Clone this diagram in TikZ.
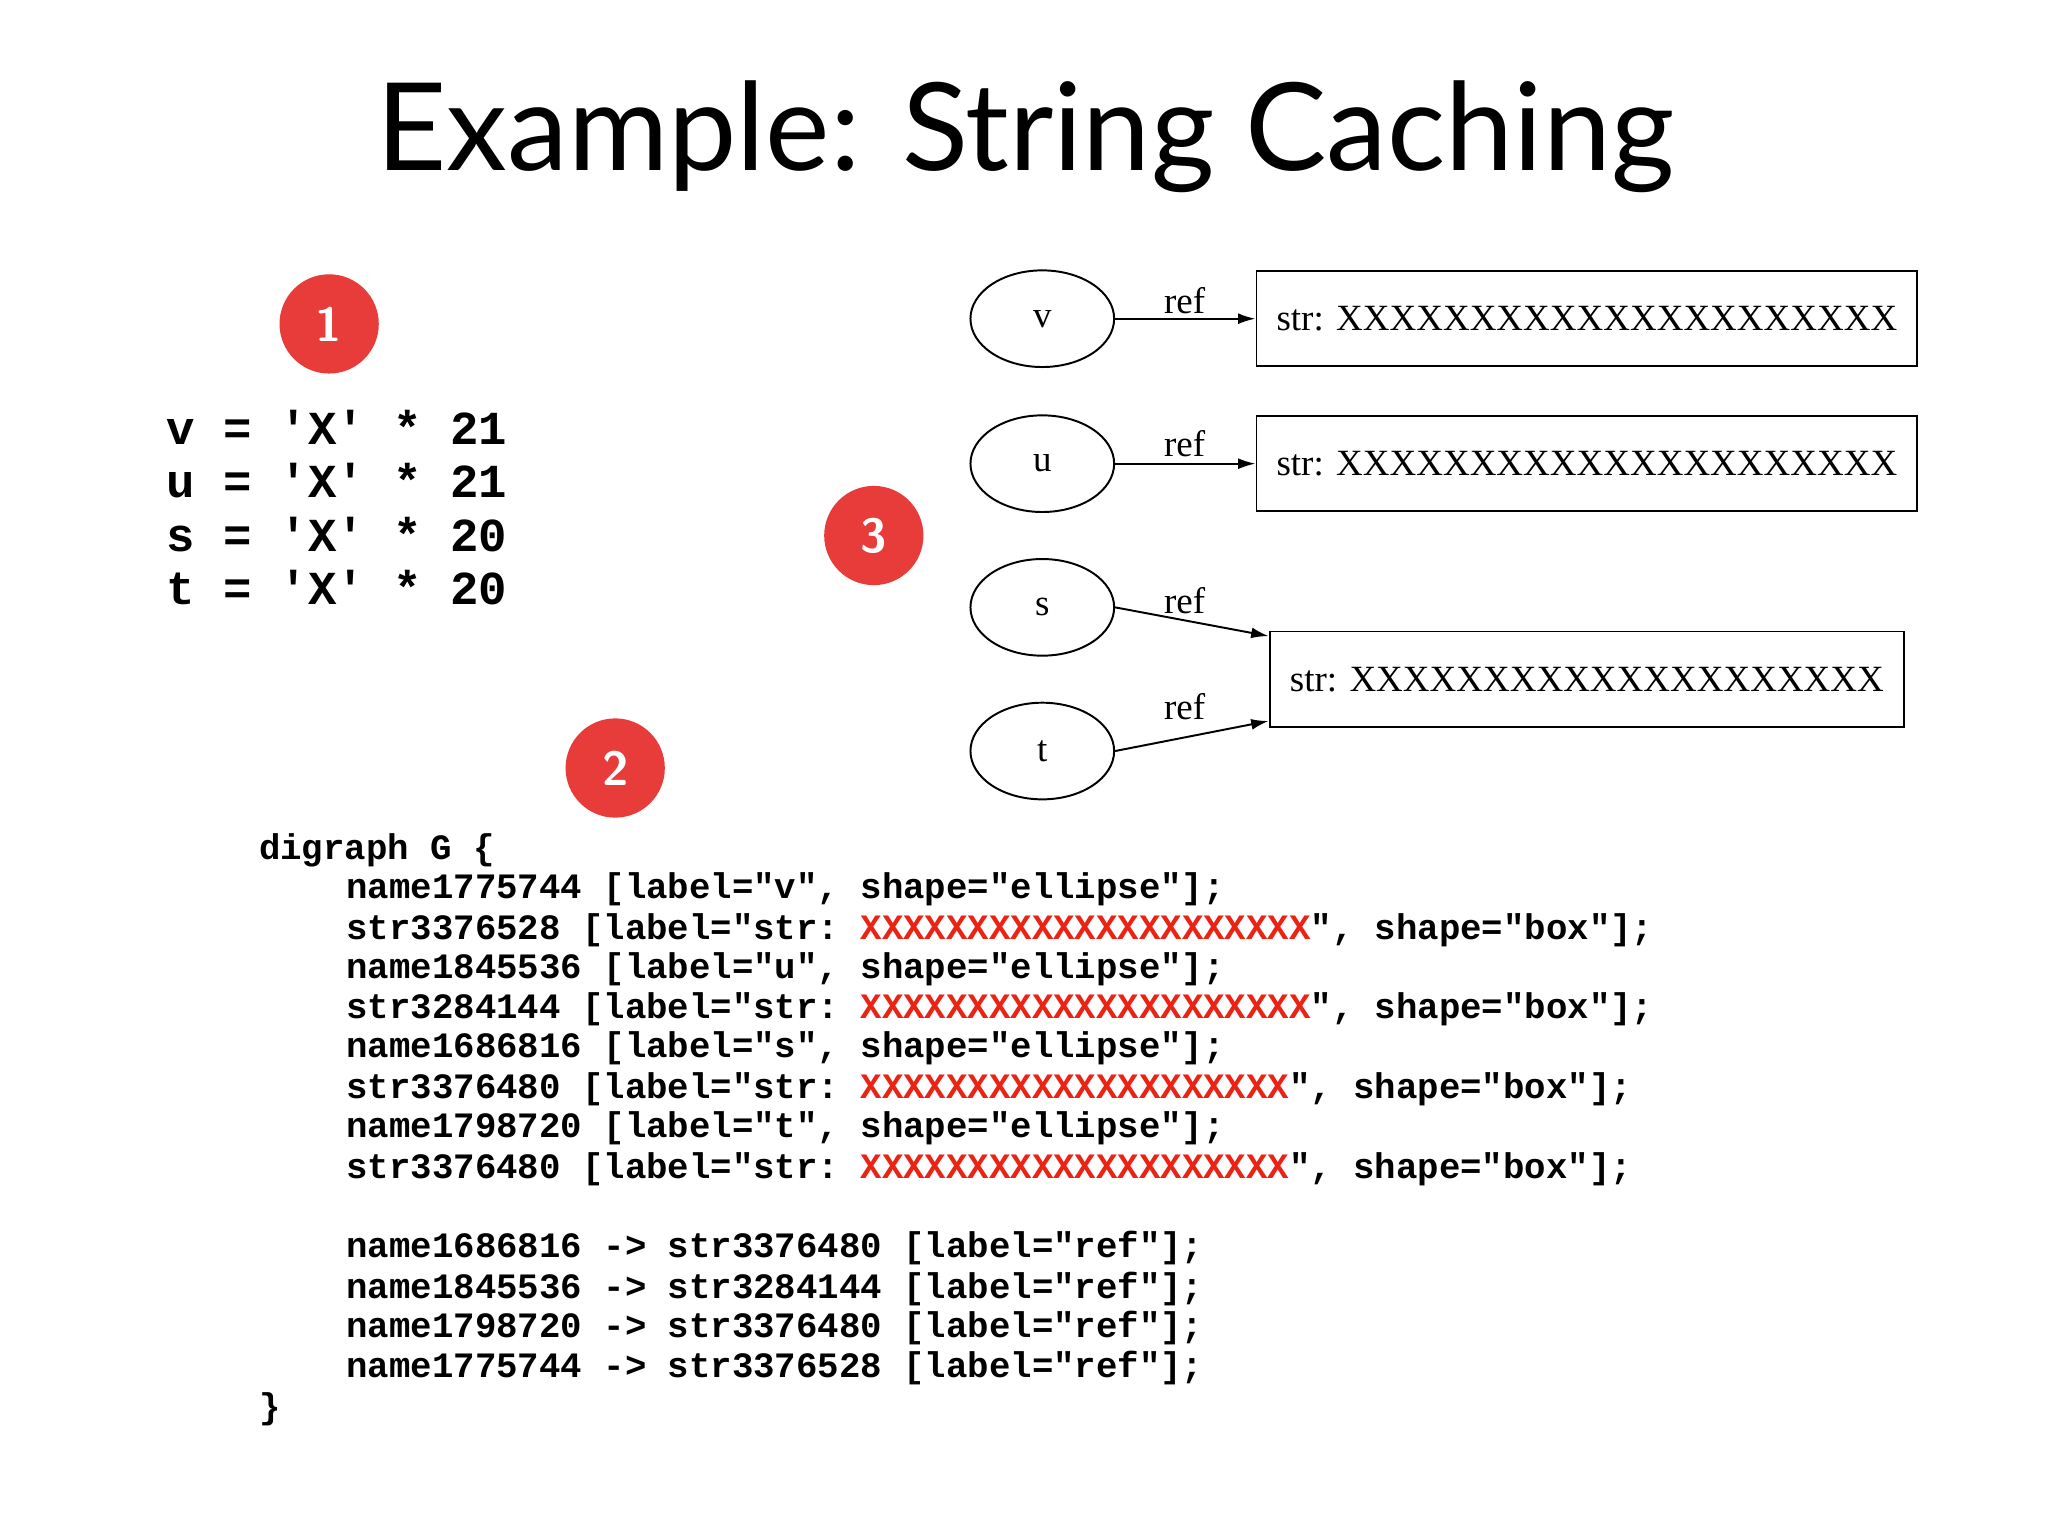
\documentclass[tikz,border=0pt]{standalone}
\usepackage{fontspec}
\setmainfont{Liberation Serif}
\setmonofont{Liberation Mono}
\newfontfamily\titlefont{Lato}
\usetikzlibrary{arrows.meta,shapes.geometric}
\definecolor{badge}{RGB}{232,60,58}
\definecolor{codered}{RGB}{235,35,20}
\begin{document}
\begin{tikzpicture}[x=0.6pt,y=-0.6pt,
  badge/.style={circle,fill=badge,minimum size=45.6pt,inner sep=0pt,text=white,font=\sffamily\bfseries\fontsize{22}{26}\selectfont},
  var/.style={draw,ellipse,minimum width=66pt,minimum height=44.4pt,inner sep=0pt,line width=0.9pt,font=\fontsize{17}{20}\selectfont},
  box/.style={draw,rectangle,line width=0.9pt,minimum width=303.6pt,minimum height=43.8pt,inner sep=0pt,font=\fontsize{17}{20}\selectfont},
  edge/.style={-{Latex[length=8pt,width=5pt]},line width=0.9pt},
  elab/.style={font=\fontsize{17}{20}\selectfont},
  code/.style={anchor=base west,inner sep=0pt,font=\ttfamily\bfseries\fontsize{16.4}{18}\selectfont},
  big/.style={anchor=base west,inner sep=0pt,font=\ttfamily\bfseries\fontsize{21.75}{24}\selectfont}]
\useasboundingbox (0,0) rectangle (1568,1176);
\node[font=\titlefont\fontsize{56}{64}\selectfont] (title) at (785,105) {Example: String Caching};
\node[badge] (b1) at (252,248) {1};
\node[badge] (b2) at (471,588) {2};
\node[badge] (b3) at (669,410) {3};
\node[big] (l1) at (127,340) {v = 'X' * 21};
\node[big] (l2) at (127,381) {u = 'X' * 21};
\node[big] (l3) at (127,422) {s = 'X' * 20};
\node[big] (l4) at (127,463) {t = 'X' * 20};
\node[var] (v) at (798,244) {v};
\node[var] (u) at (798,355) {u};
\node[var] (s) at (798,465) {s};
\node[var] (t) at (798,575) {t};
\node[box] (bv) at (1215,244) {str: XXXXXXXXXXXXXXXXXXXXX};
\node[box] (bu) at (1215,355) {str: XXXXXXXXXXXXXXXXXXXXX};
\node[box,minimum width=291.6pt] (bs) at (1215,520) {str: XXXXXXXXXXXXXXXXXXXX};
\draw[edge] (v.east) -- (bv.west);
\draw[edge] (u.east) -- (bu.west);
\coordinate (bs1) at ([yshift=19.8pt]bs.west);
\coordinate (bs2) at ([yshift=-19.2pt]bs.west);
\draw[edge] (s.east) -- (bs1);
\draw[edge] (t.east) -- (bs2);
\node[elab] (r1) at (907,230) {ref};
\node[elab] (r2) at (907,340) {ref};
\node[elab] (r3) at (907,460) {ref};
\node[elab] (r4) at (907,541) {ref};
\node[code] (c0) at (198,658) {digraph G \{};
\node[code] (c1) at (265,688) {name1775744 [label="v", shape="ellipse"];};
\node[code] (c2) at (265,719) {str3376528 [label="str: \textcolor{codered}{XXXXXXXXXXXXXXXXXXXXX}", shape="box"];};
\node[code] (c3) at (265,749) {name1845536 [label="u", shape="ellipse"];};
\node[code] (c4) at (265,780) {str3284144 [label="str: \textcolor{codered}{XXXXXXXXXXXXXXXXXXXXX}", shape="box"];};
\node[code] (c5) at (265,810) {name1686816 [label="s", shape="ellipse"];};
\node[code] (c6) at (265,841) {str3376480 [label="str: \textcolor{codered}{XXXXXXXXXXXXXXXXXXXX}", shape="box"];};
\node[code] (c7) at (265,871) {name1798720 [label="t", shape="ellipse"];};
\node[code] (c8) at (265,902) {str3376480 [label="str: \textcolor{codered}{XXXXXXXXXXXXXXXXXXXX}", shape="box"];};
\node[code] (c9) at (265,963) {name1686816 -> str3376480 [label="ref"];};
\node[code] (c10) at (265,994) {name1845536 -> str3284144 [label="ref"];};
\node[code] (c11) at (265,1024) {name1798720 -> str3376480 [label="ref"];};
\node[code] (c12) at (265,1055) {name1775744 -> str3376528 [label="ref"];};
\node[code] (c13) at (198,1086) {\}};
\end{tikzpicture}
\end{document}
